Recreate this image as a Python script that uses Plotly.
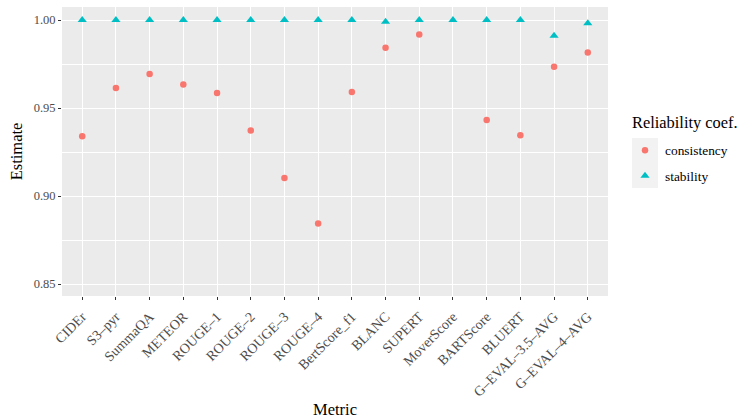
import plotly.graph_objects as go

metrics = ["CIDEr", "S3–pyr", "SummaQA", "METEOR", "ROUGE–1", "ROUGE–2", "ROUGE–3",
           "ROUGE–4", "BertScore_f1", "BLANC", "SUPERT", "MoverScore", "BARTScore",
           "BLUERT", "G–EVAL–3.5–AVG", "G–EVAL–4–AVG"]
consistency = [0.934, 0.9614, 0.9693, 0.9634, 0.9585, 0.9372, 0.9102, 0.8844,
               0.9591, 0.9843, 0.9917, None, 0.9432, 0.9345, 0.9735, 0.9816]
stability = [1.0, 1.0, 1.0, 1.0, 1.0, 1.0, 1.0, 1.0,
             1.0, 0.999, 1.0, 1.0, 1.0, 1.0, 0.9911, 0.9981]
y_ticks = [0.85, 0.90, 0.95, 1.00]
y_tick_labels = ["0.85", "0.90", "0.95", "1.00"]

font = "Liberation Serif"
fig = go.Figure()
fig.add_trace(go.Scatter(x=list(range(len(metrics))), y=consistency, mode="markers",
                         name="consistency", legendgroup="a",
                         marker=dict(symbol="circle", size=6.5, color="#F8766D")))
fig.add_trace(go.Scatter(x=list(range(len(metrics))), y=stability, mode="markers",
                         name="stability", legendgroup="b",
                         marker=dict(symbol="triangle-up", size=8, color="#00BFC4")))

fig.update_layout(
    width=738, height=419,
    margin=dict(l=62, r=130, t=7, b=123, autoexpand=False),
    paper_bgcolor="white", plot_bgcolor="#EBEBEB",
    font=dict(family=font, size=12, color="#4D4D4D"),
    legend=dict(x=(625 - 62) / 546, y=(296 - 135) / 289, xanchor="left", yanchor="top",
                font=dict(family=font, size=13.4, color="black"),
                bgcolor="rgba(0,0,0,0)", tracegroupgap=5, itemwidth=30,
                traceorder="grouped"),
    annotations=[dict(text="Reliability coef.", xref="paper", yref="paper",
                      x=(630 - 62) / 546, y=(296 - 122) / 289, xanchor="left", yanchor="middle",
                      showarrow=False, font=dict(family=font, size=16.4, color="black"))],
    shapes=[dict(type="rect", xref="paper", yref="paper",
                 x0=(632 - 62) / 546, x1=(658 - 62) / 546,
                 y0=(296 - 188) / 289, y1=(296 - 138) / 289,
                 fillcolor="#F2F2F2", line=dict(width=0), layer="below")],
)
fig.update_xaxes(
    range=[-0.6, len(metrics) - 0.4], automargin=False,
    tickmode="array", tickvals=list(range(len(metrics))), ticktext=metrics,
    tickangle=-45, ticks="outside", ticklen=3, tickcolor="#333333",
    ticklabelstandoff=3,
    tickfont=dict(family=font, size=14, color="#4D4D4D"),
    showgrid=True, gridcolor="white", gridwidth=1.1, zeroline=False,
    showline=False,
    title=dict(text="Metric", font=dict(family=font, size=16.5, color="black"), standoff=4),
)
fig.update_yaxes(
    range=[0.84318, 1.00739], automargin=False,
    tickmode="array", tickvals=y_ticks, ticktext=y_tick_labels,
    ticks="outside", ticklen=3, tickcolor="#333333",
    tickfont=dict(family=font, size=12.5, color="#4D4D4D"),
    showgrid=True, gridcolor="white", gridwidth=1.1, zeroline=False,
    minor=dict(tickmode="array", tickvals=[0.875, 0.925, 0.975], showgrid=True,
               gridcolor="white", gridwidth=0.5, ticks=""),
    title=dict(text="Estimate", font=dict(family=font, size=16.5, color="black"), standoff=6),
)
fig.write_html("out.html", config={"displayModeBar": False},
               post_script="document.body.style.margin='0';")
